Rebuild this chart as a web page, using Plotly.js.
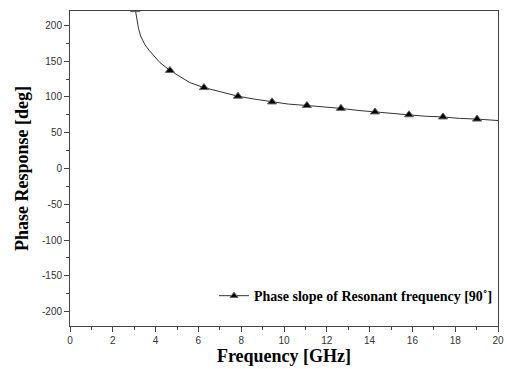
<!DOCTYPE html>
<html><head><meta charset="utf-8">
<script src="https://cdn.plot.ly/plotly-3.0.1.min.js"></script>
<style>html,body{margin:0;padding:0;background:#fff}#chart{width:507px;height:369px}</style>
</head><body><div id="chart"></div>
<script>
// Phase response curve (GHz, deg)
const freqCurve = [3.05, 3.1, 3.2, 3.3, 3.4, 3.5, 3.7, 3.9, 4.2, 4.67, 5.1, 5.6, 6.26, 7.0, 7.85, 8.6, 9.44, 10.2, 11.07, 11.9, 12.66, 13.5, 14.25, 15.0, 15.84, 16.6, 17.43, 18.2, 19.02, 20.0];
const phaseCurve = [222, 213, 196, 185, 178, 173, 165, 158, 148, 137, 129, 120, 113, 107, 101, 97, 93, 90, 88, 86, 84, 81, 79, 77, 75, 73, 72, 70, 69, 67];
// Marker positions
const freqMarkers = [3.05, 4.67, 6.26, 7.85, 9.44, 11.07, 12.66, 14.25, 15.84, 17.43, 19.02];
const phaseMarkers = [222, 137, 113, 101, 93, 88, 84, 79, 75, 72, 69];
const seriesName = "Phase slope of Resonant frequency [90˚]";
// Tick labels
const yTickVals = [-200, -150, -100, -50, 0, 50, 100, 150, 200];
const yTickText = ["-200", "-150", "-100", "-50", "0", "50", "100", "150", "200"];
const xTickVals = [0, 2, 4, 6, 8, 10, 12, 14, 16, 18, 20];
const xTickText = ["0", "2", "4", "6", "8", "10", "12", "14", "16", "18", "20"];

const lineColor = '#333';
const traces = [
  {x: freqCurve, y: phaseCurve, mode: 'lines', line: {color: lineColor, width: 1}, showlegend: false, hoverinfo: 'skip'},
  {x: freqMarkers, y: phaseMarkers, mode: 'markers', showlegend: false,
   marker: {symbol: 'triangle-up', size: 8, color: '#000', line: {color: '#666', width: 1}}},
  {x: [null], y: [null], mode: 'lines+markers', name: seriesName,
   line: {color: lineColor, width: 1},
   marker: {symbol: 'triangle-up', size: 7, color: '#000', line: {color: '#666', width: 1}}}
];

const axisCommon = {
  showgrid: false, zeroline: false, showline: true, linecolor: '#444', linewidth: 1,
  mirror: true, ticks: 'outside', ticklen: 5, tickcolor: '#444',
  tickfont: {family: 'Liberation Sans, Arial, sans-serif', size: 10, color: '#333'},
  tickmode: 'array'
};

const layout = {
  width: 507, height: 369,
  margin: {l: 70, r: 9, t: 11, b: 43},
  paper_bgcolor: '#fff', plot_bgcolor: '#fff',
  showlegend: true,
  legend: {x: 1.0, y: 0.095, xanchor: 'right', yanchor: 'middle', bgcolor: 'rgba(0,0,0,0)',
    font: {family: 'Liberation Serif, Times New Roman, serif', size: 14, color: '#000', weight: 'bold'},
    itemwidth: 30},
  xaxis: Object.assign({}, axisCommon, {
    range: [0, 20], tickvals: xTickVals, ticktext: xTickText,
    minor: {ticks: 'outside', dtick: 1, ticklen: 3, tickcolor: '#444'},
    title: {text: '<b>Frequency [GHz]</b>', standoff: 3,
      font: {family: 'Liberation Serif, Times New Roman, serif', size: 18, color: '#000'}}
  }),
  yaxis: Object.assign({}, axisCommon, {
    range: [-220, 220], tickvals: yTickVals, ticktext: yTickText,
    minor: {ticks: 'outside', dtick: 25, tick0: 0, ticklen: 3, tickcolor: '#444'},
    title: {text: '<b>Phase Response [deg]</b>', standoff: 8,
      font: {family: 'Liberation Serif, Times New Roman, serif', size: 18, color: '#000'}}
  })
};

Plotly.newPlot('chart', traces, layout, {displayModeBar: false, staticPlot: true});
</script></body></html>
